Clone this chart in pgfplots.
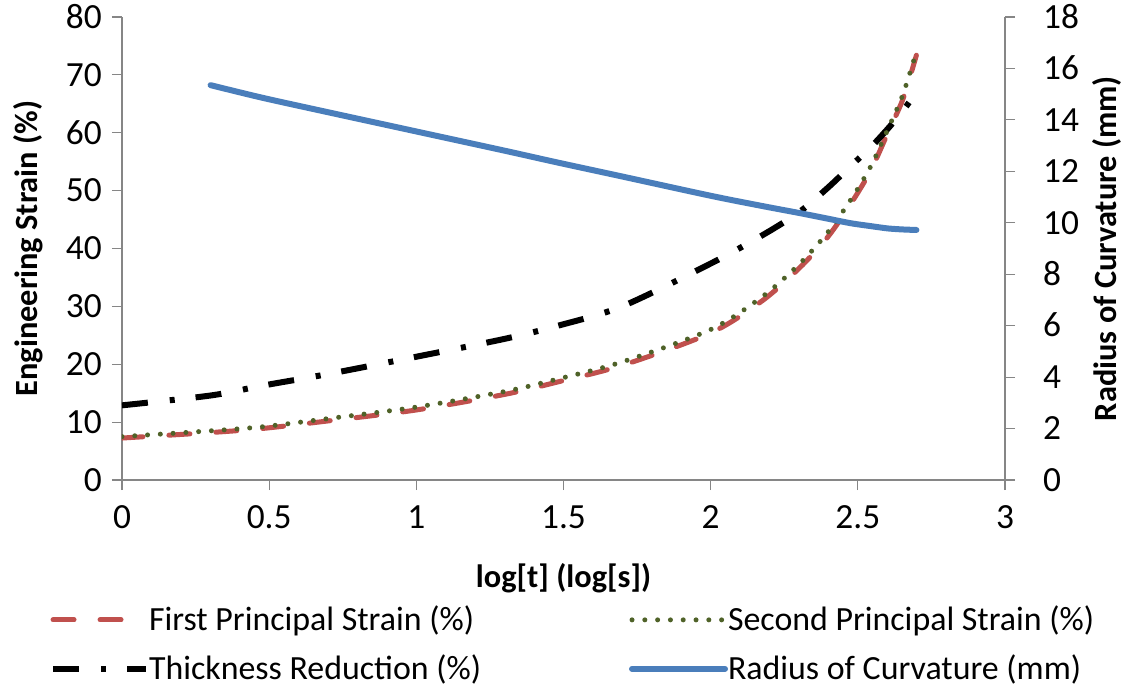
\documentclass[border=0pt]{standalone}
\usepackage{pgfplots}
\pgfplotsset{compat=1.18}
\usepackage{fontspec}
\setmainfont{Carlito}
\definecolor{axgray}{HTML}{868686}
\definecolor{cred}{HTML}{C0504D}
\definecolor{cgreen}{HTML}{4F6228}
\definecolor{cblue}{HTML}{4A7EBB}
\pgfplotsset{
  base/.style={
    scale only axis, width=883bp, height=463bp,
    at={(0,0)}, anchor=south west,
    xmin=0, xmax=3,
    axis line style={axgray, line width=1.2bp},
    tick style={axgray, line width=1.2bp},
    tick align=outside, major tick length=10bp,
    /pgf/number format/assume math mode=true,
    ticklabel style={font=\fontsize{35.5}{40}\selectfont, inner sep=0pt, text height=22.5bp, text depth=0pt},
    legend image code/.code={\draw[##1] (0bp,0bp) -- (93bp,0bp);},
    legend cell align=left,
  },
  lg/.style={legend style={draw=none, fill=none, inner sep=0pt, outer sep=0pt,
      font=\fontsize{34}{40}\selectfont, row sep=27bp,
      nodes={inner sep=0pt, text height=22bp, text depth=0pt},
      /tikz/every even column/.append style={column sep=6bp},
      at={(axis description cs:#1,-0.355)}, anchor=west}},
  sfirst/.style={cred, line width=5bp, dash pattern=on 21bp off 26bp, line cap=round},
  ssecond/.style={cgreen, line width=5bp, dash pattern=on 0bp off 12.8bp, line cap=round},
  sthick/.style={black, line width=6bp, dash pattern=on 26bp off 22bp on 5bp off 21bp},
  sradius/.style={cblue, line width=6bp, line cap=round},
}
\begin{document}
\begin{tikzpicture}
\begin{axis}[base, lg=-0.0815,
  ymin=0, ymax=80, ytick={0,10,...,80},
  xtick={0,0.5,1,1.5,2,2.5,3},
  xticklabels={0,0.5,1,1.5,2,2.5,3},
  axis y line*=left, axis x line*=bottom,
  xticklabel style={yshift=-16bp},
  yticklabel style={xshift=-10bp},
  xlabel={\bfseries log[t] (log[s])},
  ylabel={\bfseries Engineering Strain (\%)},
  every axis x label/.style={at={(axis description cs:0.5,-0.2117)}, anchor=center, font=\fontsize{32.5}{38}\selectfont},
  every axis y label/.style={at={(axis description cs:-0.1065,0.5)}, anchor=center, rotate=90, font=\fontsize{32.5}{38}\selectfont},
]
\addplot[sfirst, smooth, tension=0.5] coordinates {
(0,7.25) (0.301,8.2) (0.477,8.9) (0.699,10.2) (1.0,12.1) (1.301,14.8) (1.477,16.9)
(1.699,19.8) (2.0,25.4) (2.176,31.0) (2.301,36.6) (2.398,42.0) (2.477,47.8)
(2.544,53.5) (2.602,60.0) (2.653,65.8) (2.699,73.4)};
\addlegendentry{First Principal Strain (\%)}
\addplot[sthick, smooth, tension=0.5] coordinates {
(0,12.9) (0.301,14.6) (0.477,16.3) (0.699,18.3) (1.0,21.3) (1.301,24.4) (1.477,26.6)
(1.699,30.0) (2.0,37.4) (2.176,42.3) (2.301,46.3) (2.398,50.5) (2.477,54.3)
(2.544,57.5) (2.602,60.7) (2.653,63.8) (2.699,67.0)};
\addlegendentry{Thickness Reduction (\%)}
\addplot[ssecond, smooth, tension=0.5, forget plot] coordinates {
(0,7.5) (0.301,8.5) (0.477,9.2) (0.699,10.6) (1.0,12.6) (1.301,15.3) (1.477,17.4)
(1.699,20.4) (2.0,26.0) (2.176,31.7) (2.301,37.3) (2.398,42.8) (2.477,48.5)
(2.544,54.2) (2.602,60.6) (2.653,66.6) (2.699,74.0)};
\end{axis}
\begin{axis}[base, lg=0.5742,
  ymin=0, ymax=18, ytick={0,2,...,18},
  axis y line*=right, axis x line=none,
  yticklabel style={xshift=28bp},
  ylabel={\bfseries Radius of Curvature (mm)},
  every axis y label/.style={at={(axis description cs:1.1155,0.5)}, anchor=center, rotate=90, font=\fontsize{32.5}{38}\selectfont},
]
\addlegendimage{ssecond}
\addlegendentry{Second Principal Strain (\%)}
\addplot[sradius, smooth, tension=0.5] coordinates {
(0.301,15.35) (0.477,14.86) (0.699,14.3) (1.0,13.55) (1.301,12.8) (1.477,12.35)
(1.699,11.8) (2.0,11.05) (2.176,10.65) (2.301,10.38) (2.398,10.16) (2.477,9.98)
(2.544,9.87) (2.602,9.78) (2.653,9.74) (2.699,9.72)};
\addlegendentry{Radius of Curvature (mm)}
\end{axis}
\pgfresetboundingbox
\path[use as bounding box] (-122bp,-207bp) rectangle (1005bp,480bp);
\end{tikzpicture}
\end{document}
